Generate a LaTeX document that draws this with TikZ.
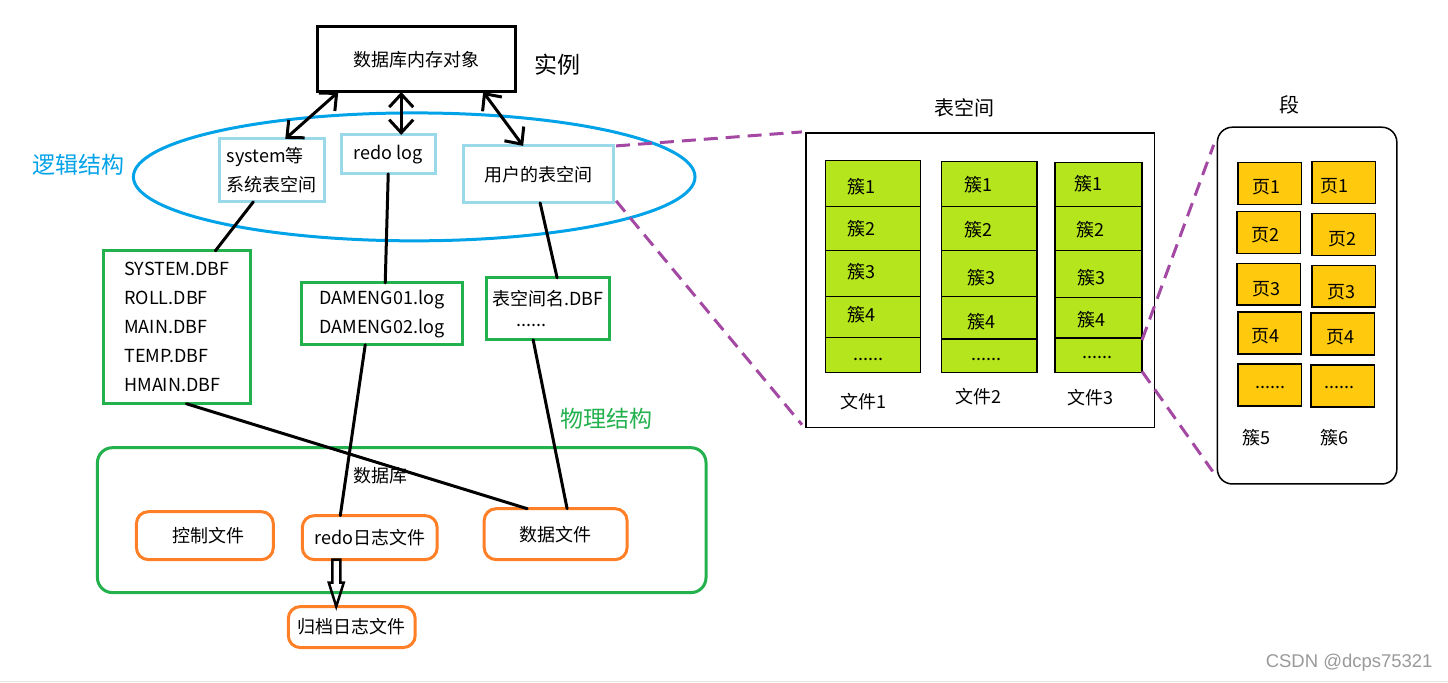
\documentclass[tikz,border=0pt]{standalone}
\usepackage{fontspec}
\setmainfont{Noto Sans CJK SC}
\newfontfamily\wmfont{Liberation Sans}
\usetikzlibrary{shapes.geometric,arrows.meta,calc}
\definecolor{lblue}{HTML}{99D9EA}
\definecolor{pgreen}{HTML}{22B14C}
\definecolor{pblue}{HTML}{00A2E8}
\definecolor{porange}{HTML}{FF7F27}
\definecolor{plime}{HTML}{B5E61D}
\definecolor{pgold}{HTML}{FFC90E}
\definecolor{ppurple}{HTML}{A349A4}
\definecolor{wmgray}{HTML}{9A9A9A}
\definecolor{edgegray}{HTML}{E6E6E6}
\begin{document}
\begin{tikzpicture}[x=1pt,y=-1pt,
  every node/.style={font=\fontsize{18}{29}\selectfont, inner sep=0pt, outer sep=0pt},
  instbox/.style={draw, line width=3pt, minimum width=198pt, minimum height=65pt},
  lbbox/.style={draw=lblue, line width=3pt},
  gbbox/.style={draw=pgreen, line width=3pt},
  obbox/.style={draw=porange, line width=3pt, rounded corners=12pt},
  conn/.style={line width=3pt, line cap=round},
  dblarrow/.style={line width=3pt, {Straight Barb[length=13pt,width=24pt,line width=3pt]}-{Straight Barb[length=13pt,width=24pt,line width=3pt]}},
  hollowarrow/.style={draw, line width=2.5pt, line join=miter},
  cellbox/.style={draw, fill=plime, line width=1.2pt},
  pagebox/.style={draw, fill=pgold, line width=1.2pt, minimum width=63.4pt, minimum height=42pt},
  zoomline/.style={draw=ppurple, line width=3pt, dash pattern=on 14pt off 8pt},
  bigtitle/.style={font=\fontsize{23}{26}\selectfont},
  paneltitle/.style={font=\fontsize{20}{24}\selectfont}
]
\fill[white] (0,0) rectangle (1448,683);
\draw[line width=1pt, draw=edgegray] (0,682) -- (1448,682);

% ---- instance
\node[instbox] (inst) at (416,59.5) {数据库内存对象};
\node[bigtitle] (instlbl) at (557,65) {实例};

% ---- logical structure
\node[ellipse, draw=pblue, line width=3pt, minimum width=562pt, minimum height=128pt] (logic) at (414,177) {};
\node[bigtitle, text=pblue] (logiclbl) at (78,165) {逻辑结构};
\node[lbbox, minimum width=105pt, minimum height=63pt, align=left] (sys) at (271.5,170.5) {system等\\系统表空间};
\node[lbbox, minimum width=94pt, minimum height=39pt] (redo) at (388,154.5) {redo log};
\node[lbbox, minimum width=150pt, minimum height=57pt] (user) at (538,174.5) {用户的表空间};

\draw[dblarrow] ([xshift=-78pt]inst.south) -- ([xshift=13.5pt]sys.north);
\draw[dblarrow] ([xshift=-15pt]inst.south) -- ([xshift=13pt]redo.north);
\draw[dblarrow] ([xshift=67pt]inst.south) -- ([xshift=-15pt]user.north);

% ---- file groups
\node[gbbox, minimum width=147pt, minimum height=153pt, align=left] (sysf) at (176.5,327.5) {SYSTEM.DBF\\ROLL.DBF\\MAIN.DBF\\TEMP.DBF\\HMAIN.DBF};
\node[gbbox, minimum width=161pt, minimum height=62pt, align=center] (dam) at (381.5,314) {DAMENG01.log\\DAMENG02.log};
\node[gbbox, minimum width=123pt, minimum height=62pt, align=left, font=\fontsize{18}{21}\selectfont] (tsn) at (547.5,309) {表空间名.DBF\\\hspace*{24pt}......};

% ---- physical structure
\node[bigtitle, text=pgreen] (physlbl) at (606,419) {物理结构};
\node[gbbox, rounded corners=15pt, minimum width=609pt, minimum height=145pt] (db) at (401.5,520.5) {};
\node (dblbl) at (380,476) {数据库};
\node[obbox, minimum width=137pt, minimum height=48pt] (ctrl) at (204.5,536) {\hspace*{8pt}控制文件};
\node[obbox, minimum width=135pt, minimum height=44pt] (redof) at (369.5,538) {redo日志文件};
\node[obbox, minimum width=143pt, minimum height=51pt] (dataf) at (555.5,534.5) {数据文件};
\node[obbox, minimum width=127pt, minimum height=41pt] (arch) at (351.5,627.5) {归档日志文件};

\draw[conn] ([xshift=-18.5pt]sys.south) -- ([xshift=38.5pt]sysf.north);
\draw[conn] (redo.south) -- ([xshift=3.5pt]dam.north);
\draw[conn] ([xshift=2pt]user.south) -- ([xshift=9.5pt]tsn.north);
\draw[conn] ([xshift=9.5pt]sysf.south) -- ([xshift=-28.5pt]dataf.north);
\draw[conn] ([xshift=-16.5pt]dam.south) -- ([xshift=-29.5pt]redof.north);
\draw[conn] ([xshift=-14.5pt]tsn.south) -- ([xshift=11.5pt]dataf.north);

% hollow arrow redo log files -> archive log files
\coordinate (hatop) at ([xshift=-33.5pt]redof.south);
\draw[hollowarrow] (hatop) ++(-4,0) -- ++(8,0) -- ++(0,23) -- ++(3.5,0) -- ++(-7.5,24) -- ++(-7.5,-24) -- ++(3.5,0) -- cycle;

% ---- tablespace panel
\node[paneltitle] (tstitle) at (965,108) {表空间};
\node[draw, line width=1.5pt, minimum width=349pt, minimum height=295pt] (ts) at (980.5,280.5) {};

\node[cellbox, minimum width=95pt, minimum height=46pt]   (c11) at (873.2,183.7) {};
\node[cellbox, minimum width=95pt, minimum height=44pt]   (c12) at (873.2,228.7) {};
\node[cellbox, minimum width=95pt, minimum height=46pt]   (c13) at (873.2,273.7) {};
\node[cellbox, minimum width=95pt, minimum height=41.3pt] (c14) at (873.2,317.35) {};
\node[cellbox, minimum width=95pt, minimum height=35pt]   (c15) at (873.2,355.5) {};

\node[cellbox, minimum width=95.6pt, minimum height=45pt]   (c21) at (989.5,184.2) {};
\node[cellbox, minimum width=95.6pt, minimum height=44pt]   (c22) at (989.5,228.7) {};
\node[cellbox, minimum width=95.6pt, minimum height=46pt]   (c23) at (989.5,273.7) {};
\node[cellbox, minimum width=95.6pt, minimum height=42.6pt] (c24) at (989.5,318) {};
\node[cellbox, minimum width=95.6pt, minimum height=33.7pt] (c25) at (989.5,356.15) {};

\node[cellbox, minimum width=87pt, minimum height=44.4pt] (c31) at (1098.8,184.5) {};
\node[cellbox, minimum width=87pt, minimum height=44pt]   (c32) at (1098.8,228.7) {};
\node[cellbox, minimum width=87pt, minimum height=46.6pt] (c33) at (1098.8,274) {};
\node[cellbox, minimum width=87pt, minimum height=41pt]   (c34) at (1098.8,317.8) {};
\node[cellbox, minimum width=87pt, minimum height=34.7pt] (c35) at (1098.8,355.65) {};

\node (t11) at (862,186.7) {簇1};
\node (t12) at (862,229) {簇2};
\node (t13) at (862,272) {簇3};
\node (t14) at (862,315) {簇4};
\node (t15) at (869,360) {......};
\node (t21) at (979,185) {簇1};
\node (t22) at (979,230) {簇2};
\node (t23) at (982,277.7) {簇3};
\node (t24) at (982,322) {簇4};
\node (t25) at (986.7,360) {......};
\node (t31) at (1089,184) {簇1};
\node (t32) at (1091,230) {簇2};
\node (t33) at (1092,278) {簇3};
\node (t34) at (1092,320) {簇4};
\node (t35) at (1098,358) {......};

\node (f1) at (863.5,401.7) {文件1};
\node (f2) at (979,396.7) {文件2};
\node (f3) at (1090.5,398) {文件3};

% ---- segment panel
\node[paneltitle] (segtitle) at (1290,105) {段};
\node[draw, line width=1.5pt, rounded corners=15pt, minimum width=179.6pt, minimum height=357pt] (seg) at (1307.5,305.8) {};

\node[pagebox] (p11) at (1270,183.3) {};
\node[pagebox] (p12) at (1269,232.5) {};
\node[pagebox] (p13) at (1269,284.3) {};
\node[pagebox] (p14) at (1270,333.3) {};
\node[pagebox] (p15) at (1270,385.3) {};
\node[pagebox] (p21) at (1344,182.3) {};
\node[pagebox] (p22) at (1344,234.3) {};
\node[pagebox] (p23) at (1344,286.3) {};
\node[pagebox] (p24) at (1343,334.3) {};
\node[pagebox] (p25) at (1343,386.3) {};

\node (q11) at (1266.7,187.3) {页1};
\node (q12) at (1266,235) {页2};
\node (q13) at (1267,289) {页3};
\node (q14) at (1266,336.7) {页4};
\node (q15) at (1271,388) {......};
\node (q21) at (1335,186.7) {页1};
\node (q22) at (1342.7,239) {页2};
\node (q23) at (1341.7,292) {页3};
\node (q24) at (1341,337.7) {页4};
\node (q25) at (1340,388) {......};

\node (s5) at (1256.7,438.3) {簇5};
\node (s6) at (1335,438) {簇6};

% ---- zoom lines
\draw[zoomline] ([xshift=3pt]user.north east) -- ([xshift=-4pt,yshift=1pt]ts.north west);
\draw[zoomline] ([xshift=3pt,yshift=2pt]user.south east) -- ([xshift=-4pt,yshift=3pt]ts.south west);
\draw[zoomline] ([yshift=-2pt]c35.north east) -- ([xshift=-3.7pt,yshift=-17.7pt]seg.north west);
\draw[zoomline] ([yshift=1.3pt]c35.south east) -- ([xshift=-4.7pt,yshift=12.6pt]seg.south west);

% ---- watermark
\node[font=\wmfont\fontsize{18.5}{20}\selectfont, text=wmgray, anchor=east] (wm) at (1433,663) {CSDN @dcps75321};
\end{tikzpicture}
\end{document}
